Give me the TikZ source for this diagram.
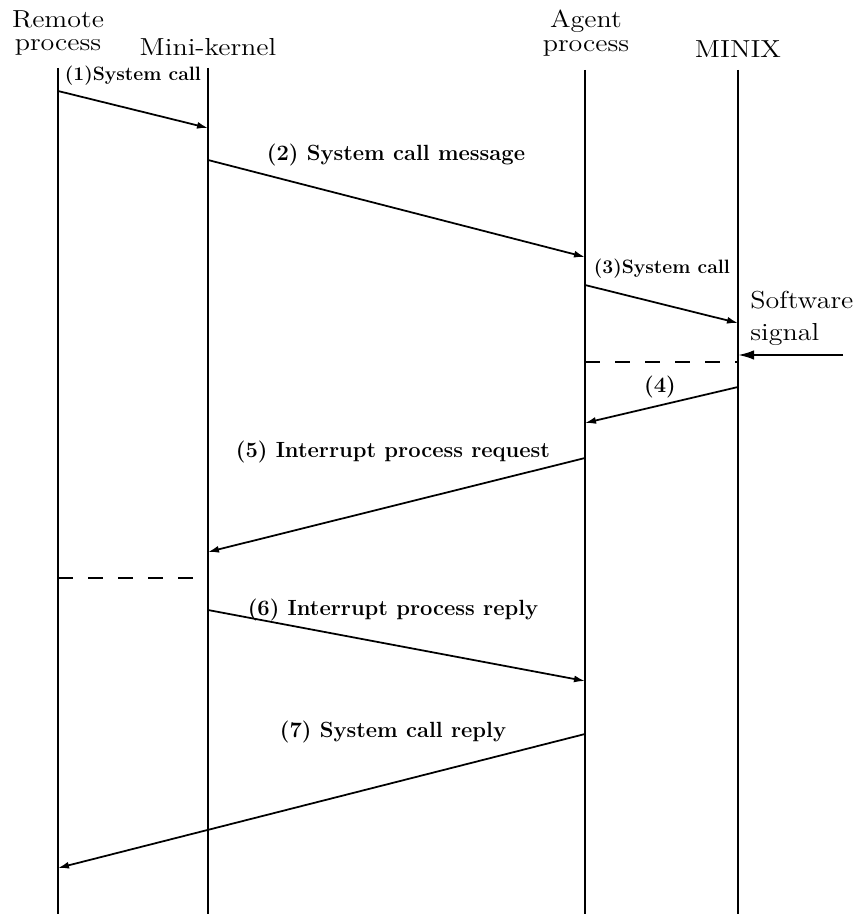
\documentclass[tikz,border=0pt]{standalone}
\usepackage{graphicx}
\usepackage{tikz}
\usetikzlibrary{arrows.meta,positioning}

\newcommand{\wide}[1]{\scalebox{1.14}[1]{#1}}

\begin{document}
\begin{tikzpicture}[
    x=0.2mm, y=-0.2mm,
    life/.style={line width=1.2pt},
    msg/.style={line width=1pt, -{Latex[length=2.2mm,width=1.4mm]}},
    sig/.style={line width=1.2pt, -{Latex[length=3.2mm,width=1.9mm]}},
    wait/.style={line width=1pt, dash pattern=on 3mm off 3mm},
    head/.style={font=\fontsize{14}{13.5}\selectfont, align=center, inner sep=0pt},
    label/.style={font=\fontsize{12.5}{14}\selectfont\bfseries, inner sep=0pt},
    small/.style={font=\fontsize{11}{13}\selectfont\bfseries, inner sep=0pt}
]

\useasboundingbox (0,0) rectangle (864,914);

% Headings
\node[head] (remote) at (58,33) {\wide{Remote}\\\wide{process}};
\node[head] (kernel) at (208,47) {\wide{Mini-kernel}};
\node[head] (agent) at (586,33) {\wide{Agent}\\\wide{process}};
\node[head] (minix) at (738,49) {\wide{MINIX}};

% Lifelines
\coordinate (rtop) at (58,68);   \coordinate (rbot) at (58,914);
\coordinate (ktop) at (208,68);  \coordinate (kbot) at (208,914);
\coordinate (atop) at (585,70);  \coordinate (abot) at (585,914);
\coordinate (xtop) at (738,70);  \coordinate (xbot) at (738,914);
\foreach \l in {r,k,a,x} {
    \draw[life] (\l top) -- (\l bot);
}

% Message end points
\coordinate (r1) at (58,91);   \coordinate (k1) at (208,128);
\coordinate (k2) at (208,160); \coordinate (a2) at (585,257);
\coordinate (a3) at (585,285); \coordinate (x3) at (738,323);
\coordinate (x4) at (738,387); \coordinate (a4) at (585,423);
\coordinate (a5) at (585,458); \coordinate (k5) at (208,552);
\coordinate (k6) at (208,610); \coordinate (a6) at (585,681);
\coordinate (a7) at (585,734); \coordinate (r7) at (58,868);

% Messages
\draw[msg] (r1) -- (k1);
\draw[msg] (k2) -- (a2);
\draw[msg] (a3) -- (x3);
\draw[msg] (x4) -- (a4);
\draw[msg] (a5) -- (k5);
\draw[msg] (k6) -- (a6);
\draw[msg] (a7) -- (r7);

% Message labels
\node[small] (l1) at (133,76) {(1)System call};
\node[label] (l2) at (396,155) {(2) System call message};
\node[small] (l3) at (662,269) {(3)System call};
\node[label] (l4) at (660,387) {(4)};
\node[label] (l5) at (393,452) {(5) Interrupt process request};
\node[label] (l6) at (393,610) {(6) Interrupt process reply};
\node[label] (l7) at (393,732) {(7) System call reply};

% Software signal
\node[head, align=left, anchor=north west, font=\fontsize{14}{18}\selectfont]
    (signal) at (750,291) {\wide{Software}\\\wide{signal}};
\coordinate (sigfrom) at (843,355);
\coordinate (sigto) at (738,355);
\draw[sig] (sigfrom) -- (sigto);

% Waiting
\coordinate (aw) at (585,362); \coordinate (xw) at (738,362);
\coordinate (rw) at (58,578);  \coordinate (kw) at (208,578);
\draw[wait] (aw) -- (xw);
\draw[wait] (rw) -- (kw);

\end{tikzpicture}
\end{document}
